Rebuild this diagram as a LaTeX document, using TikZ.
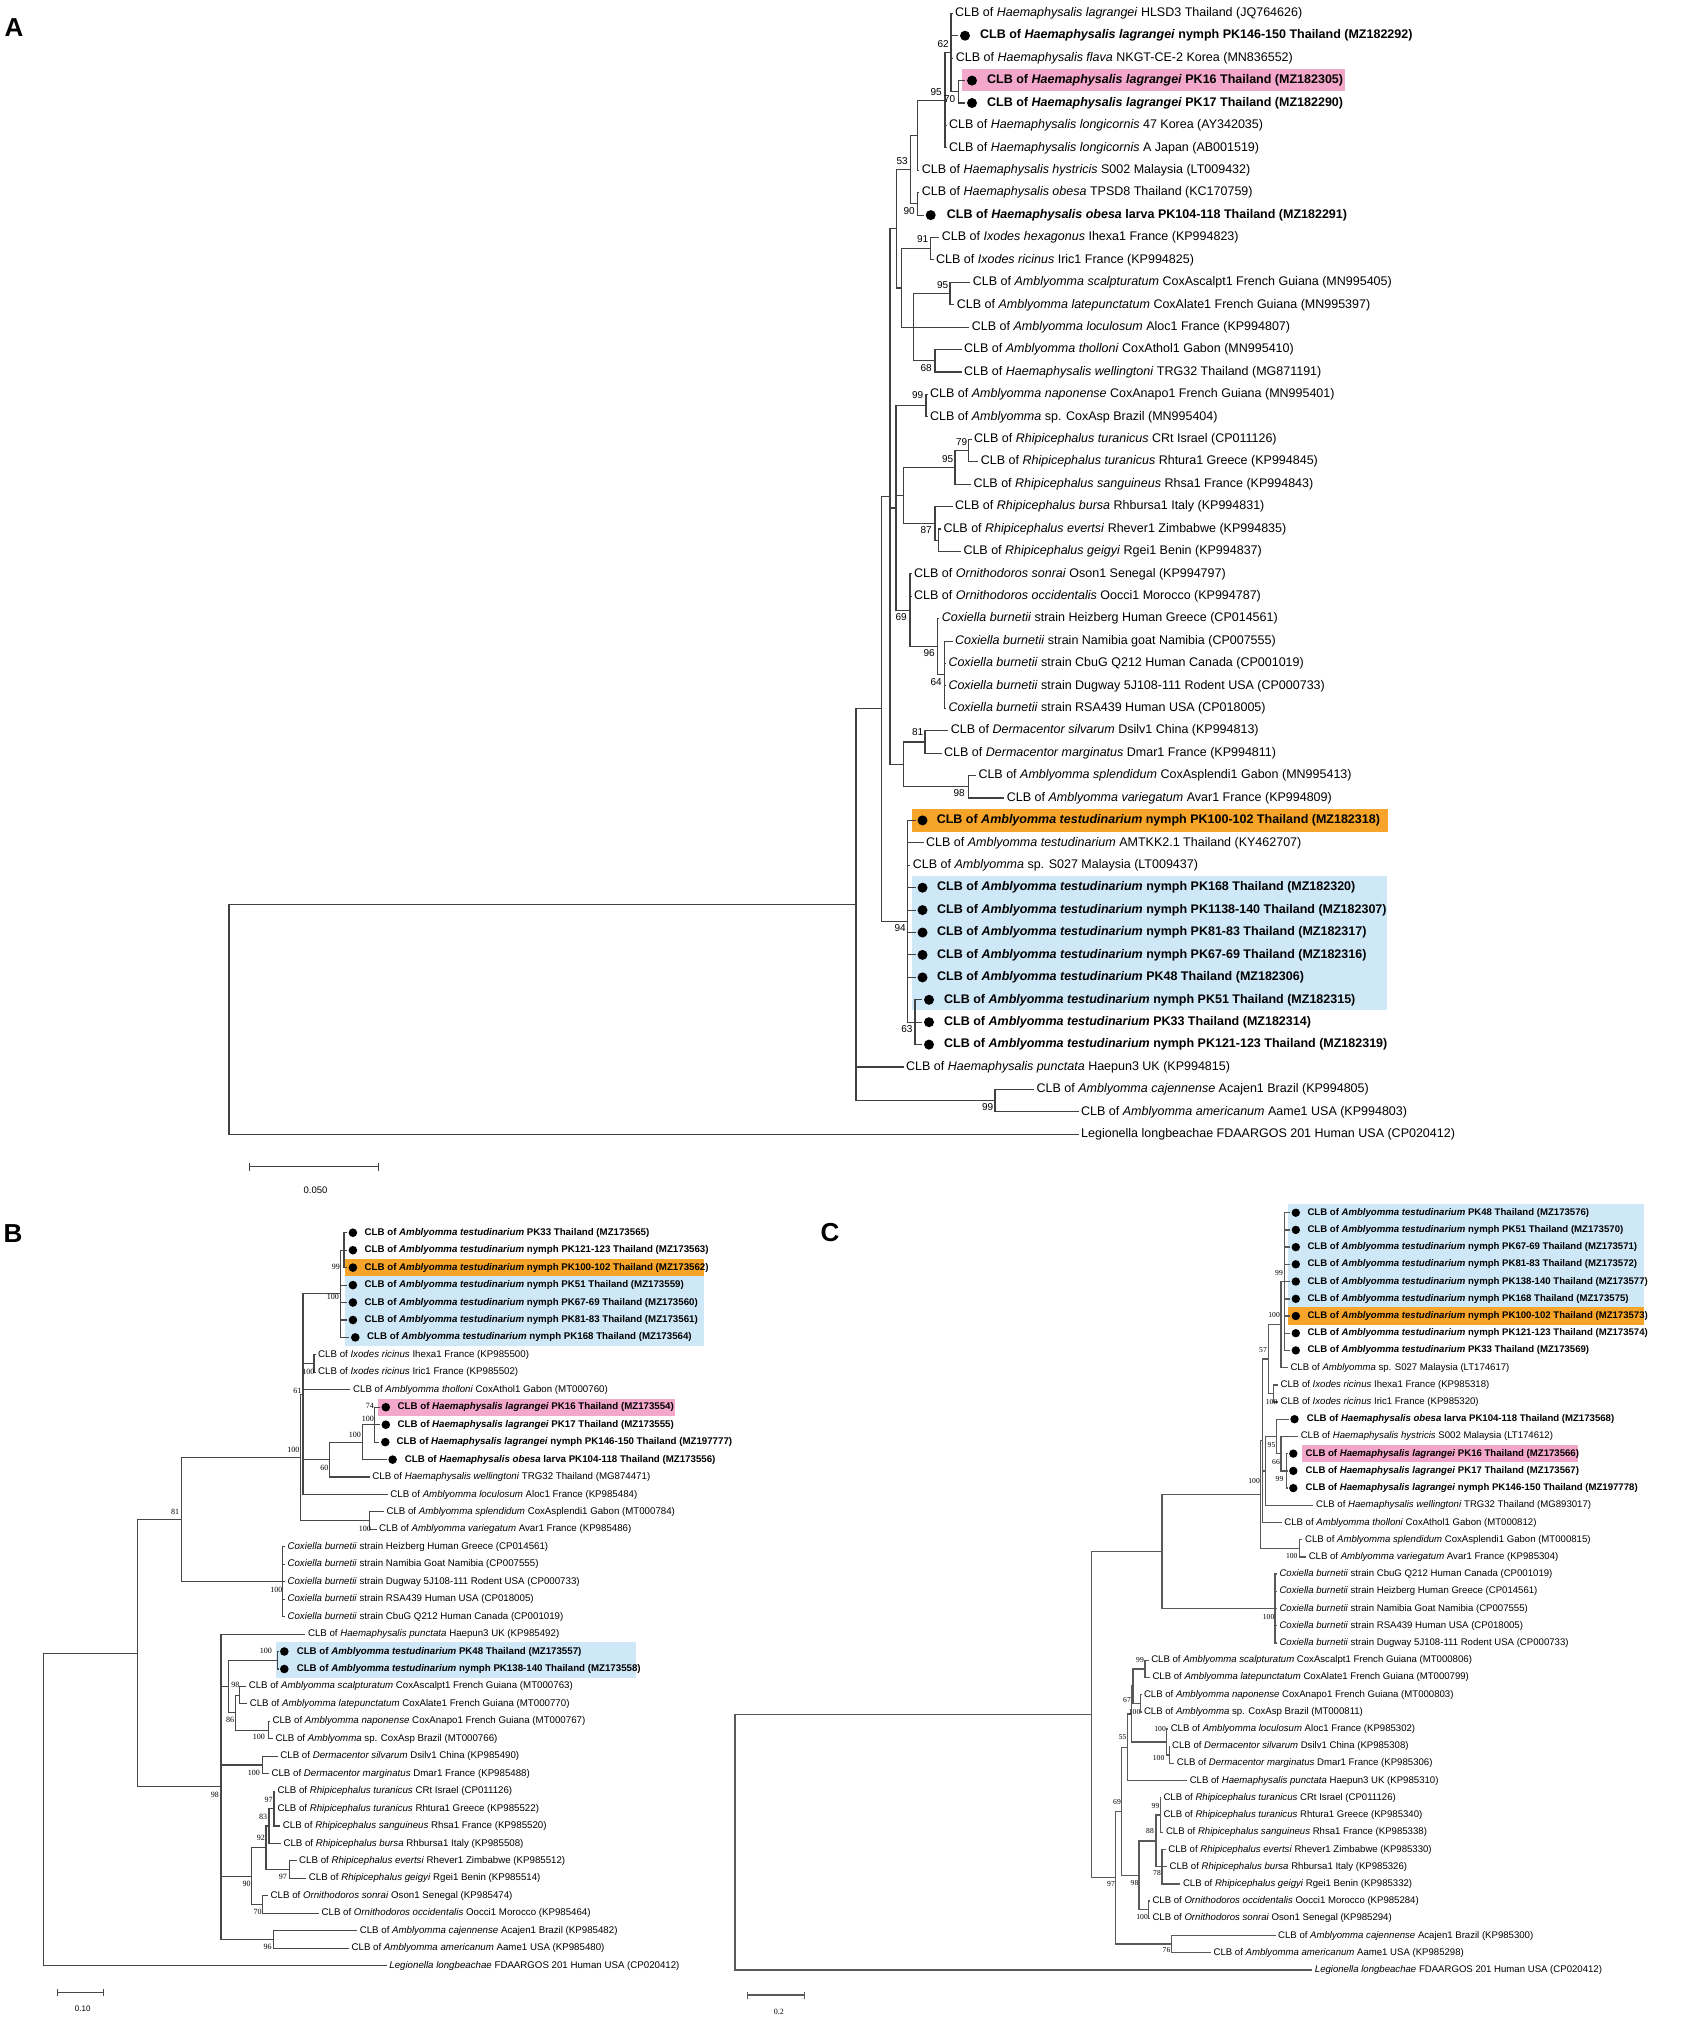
\documentclass[tikz,border=0pt]{standalone}
\usepackage{fontspec}
\setmainfont{Liberation Sans}
\newfontfamily\serifnum{Liberation Serif}
\usetikzlibrary{arrows.meta}
\definecolor{pinkbox}{HTML}{F2A7CB}
\definecolor{orangebox}{HTML}{F7A52A}
\definecolor{bluebox}{HTML}{CFE8F8}
\newcommand\Tlf[5]{\node[lf] (#1) at (#3,#4) {#5}; \draw[br] (#2) |- ([xshift=-2.5pt]#1.west);}
\newcommand\Tld[6]{\node[dotn] (#1d) at (#3,#5) {}; \node[lf] (#1) at (#4,#5) {\bfseries #6}; \draw[br] (#2) |- ([xshift=-1.5pt]#1d.west);}
\newcommand\Tbs[4]{\node[bs] (#1) at (#2,#3) {#4};}
\newcommand\Ted[2]{\draw[br] (#1) |- (#2);}
\begin{document}
\begin{tikzpicture}[x=1pt,y=-1pt,
  br/.style={draw=black!75,line width=1.1pt},
  lf/.style={anchor=west,inner sep=0pt,font=\fontsize{12.5}{15}\selectfont},
  dotn/.style={circle,fill=black,inner sep=0pt,minimum size=10pt},
  bs/.style={anchor=east,inner sep=0pt,font=\fontsize{10}{12}\selectfont},
  panel/.style={font=\bfseries\fontsize{26}{30}\selectfont,inner sep=0pt},
  sbl/.style={inner sep=0pt,font=\fontsize{9.5}{11}\selectfont}]
\fill[white] (0,0) rectangle (1687,2019);
\useasboundingbox (0,0) rectangle (1687,2019);
% ================= PANEL A =================
\node[panel] (lblA) at (14,28) {A};
\fill[pinkbox] (962.4,68.8) rectangle (1344.8,91.2);
\fill[orangebox] (912,809.2) rectangle (1388,831.6);
\fill[bluebox] (912,875.5) rectangle (1387,1010);
\coordinate (anR) at (229,1019.5);
\coordinate (anP) at (856,904.8);
\coordinate (anQ) at (881.7,708.9);
\coordinate (anL) at (890,496.5);
\coordinate (anE) at (896.7,228.7);
\coordinate (anC) at (910.7,169.5);
\coordinate (anBn) at (917.3,135.2);
\coordinate (anA0) at (945,100.2);
\coordinate (anA1) at (951,52.5);
\coordinate (anA2) at (958.3,91.8);
\coordinate (anD) at (917.3,203.9);
\coordinate (anG) at (901.7,288);
\coordinate (anF) at (930.7,248.7);
\coordinate (anH) at (913.3,327.2);
\coordinate (anI) at (950,293.6);
\coordinate (anJ) at (935,360.8);
\coordinate (anM) at (896,508);
\coordinate (anK) at (926,405.7);
\coordinate (anNn) at (903.3,495.3);
\coordinate (anPp) at (955,467.3);
\coordinate (anQq) at (968.3,450.5);
\coordinate (anRr) at (935,523.4);
\coordinate (anSs) at (938.3,540.2);
\coordinate (anO) at (910,610.2);
\coordinate (anT) at (937.3,646.7);
\coordinate (anU) at (944.3,674.7);
\coordinate (anV) at (903.3,764.4);
\coordinate (anW) at (925,742);
\coordinate (anX) at (968.3,786.8);
\coordinate (anY) at (907.3,921.3);
\coordinate (anZ) at (915,1022.2);
\coordinate (anCA) at (995,1100.7);
\Ted{anR}{anP}\Ted{anP}{anQ}\Ted{anP}{anCA}\Ted{anQ}{anL}\Ted{anQ}{anY}
\Ted{anL}{anE}\Ted{anL}{anM}\Ted{anL}{anV}\Ted{anE}{anC}\Ted{anE}{anG}
\Ted{anC}{anBn}\Ted{anC}{anD}\Ted{anBn}{anA0}\Ted{anA0}{anA1}\Ted{anA1}{anA2}
\Ted{anG}{anF}\Ted{anG}{anH}\Ted{anH}{anI}\Ted{anH}{anJ}
\Ted{anM}{anK}\Ted{anM}{anNn}\Ted{anM}{anO}\Ted{anNn}{anPp}\Ted{anNn}{anRr}
\Ted{anPp}{anQq}\Ted{anRr}{anSs}\Ted{anO}{anT}\Ted{anT}{anU}
\Ted{anV}{anW}\Ted{anV}{anX}\Ted{anY}{anZ}
\Tlf{al01}{anA1}{955}{13.3}{CLB of \textit{Haemaphysalis lagrangei} HLSD3 Thailand (JQ764626)}
\Tld{al02}{anA1}{965}{980}{35.7}{CLB of \textit{Haemaphysalis lagrangei} nymph PK146-150 Thailand (MZ182292)}
\Tlf{al03}{anA1}{955.7}{58.1}{CLB of \textit{Haemaphysalis flava} NKGT-CE-2 Korea (MN836552)}
\Tld{al04}{anA2}{972}{987}{80.6}{CLB of \textit{Haemaphysalis lagrangei} PK16 Thailand (MZ182305)}
\Tld{al05}{anA2}{972}{987}{103.0}{CLB of \textit{Haemaphysalis lagrangei} PK17 Thailand (MZ182290)}
\Tlf{al06}{anA0}{949}{125.4}{CLB of \textit{Haemaphysalis longicornis} 47 Korea (AY342035)}
\Tlf{al07}{anA0}{949}{147.8}{CLB of \textit{Haemaphysalis longicornis} A Japan (AB001519)}
\Tlf{al08}{anBn}{921.7}{170.2}{CLB of \textit{Haemaphysalis hystricis} S002 Malaysia (LT009432)}
\Tlf{al09}{anD}{921.7}{192.7}{CLB of \textit{Haemaphysalis obesa} TPSD8 Thailand (KC170759)}
\Tld{al10}{anD}{930.7}{946.7}{215.1}{CLB of \textit{Haemaphysalis obesa} larva PK104-118 Thailand (MZ182291)}
\Tlf{al11}{anF}{941.7}{237.5}{CLB of \textit{Ixodes hexagonus} Ihexa1 France (KP994823)}
\Tlf{al12}{anF}{936}{259.9}{CLB of \textit{Ixodes ricinus} Iric1 France (KP994825)}
\Tlf{al13}{anI}{972.7}{282.3}{CLB of \textit{Amblyomma scalpturatum} CoxAscalpt1 French Guiana (MN995405)}
\Tlf{al14}{anI}{956.7}{304.8}{CLB of \textit{Amblyomma latepunctatum} CoxAlate1 French Guiana (MN995397)}
\Tlf{al15}{anH}{971.7}{327.2}{CLB of \textit{Amblyomma loculosum} Aloc1 France (KP994807)}
\Tlf{al16}{anJ}{964}{349.6}{CLB of \textit{Amblyomma tholloni} CoxAthol1 Gabon (MN995410)}
\Tlf{al17}{anJ}{964}{372.0}{CLB of \textit{Haemaphysalis wellingtoni} TRG32 Thailand (MG871191)}
\Tlf{al18}{anK}{930}{394.4}{CLB of \textit{Amblyomma naponense} CoxAnapo1 French Guiana (MN995401)}
\Tlf{al19}{anK}{930}{416.9}{CLB of \textit{Amblyomma} sp. CoxAsp Brazil (MN995404)}
\Tlf{al20}{anQq}{974}{439.3}{CLB of \textit{Rhipicephalus turanicus} CRt Israel (CP011126)}
\Tlf{al21}{anQq}{980.7}{461.7}{CLB of \textit{Rhipicephalus turanicus} Rhtura1 Greece (KP994845)}
\Tlf{al22}{anPp}{973.3}{484.1}{CLB of \textit{Rhipicephalus sanguineus} Rhsa1 France (KP994843)}
\Tlf{al23}{anRr}{955}{506.5}{CLB of \textit{Rhipicephalus bursa} Rhbursa1 Italy (KP994831)}
\Tlf{al24}{anSs}{943.3}{529.0}{CLB of \textit{Rhipicephalus evertsi} Rhever1 Zimbabwe (KP994835)}
\Tlf{al25}{anSs}{963.3}{551.4}{CLB of \textit{Rhipicephalus geigyi} Rgei1 Benin (KP994837)}
\Tlf{al26}{anO}{914}{573.8}{CLB of \textit{Ornithodoros sonrai} Oson1 Senegal (KP994797)}
\Tlf{al27}{anO}{914}{596.2}{CLB of \textit{Ornithodoros occidentalis} Oocci1 Morocco (KP994787)}
\Tlf{al28}{anT}{941.7}{618.6}{\textit{Coxiella burnetii} strain Heizberg Human Greece (CP014561)}
\Tlf{al29}{anU}{955}{641.1}{\textit{Coxiella burnetii} strain Namibia goat Namibia (CP007555)}
\Tlf{al30}{anU}{948.3}{663.5}{\textit{Coxiella burnetii} strain CbuG Q212 Human Canada (CP001019)}
\Tlf{al31}{anU}{948.3}{685.9}{\textit{Coxiella burnetii} strain Dugway 5J108-111 Rodent USA (CP000733)}
\Tlf{al32}{anU}{948.3}{708.3}{\textit{Coxiella burnetii} strain RSA439 Human USA (CP018005)}
\Tlf{al33}{anW}{950.7}{730.7}{CLB of \textit{Dermacentor silvarum} Dsilv1 China (KP994813)}
\Tlf{al34}{anW}{944}{753.2}{CLB of \textit{Dermacentor marginatus} Dmar1 France (KP994811)}
\Tlf{al35}{anX}{978.3}{775.6}{CLB of \textit{Amblyomma splendidum} CoxAsplendi1 Gabon (MN995413)}
\Tlf{al36}{anX}{1006.7}{798.0}{CLB of \textit{Amblyomma variegatum} Avar1 France (KP994809)}
\Tld{al37}{anY}{922.5}{936.6}{820.4}{CLB of \textit{Amblyomma testudinarium} nymph PK100-102 Thailand (MZ182318)}
\Tlf{al38}{anY}{926}{842.8}{CLB of \textit{Amblyomma testudinarium} AMTKK2.1 Thailand (KY462707)}
\Tlf{al39}{anY}{912.7}{865.3}{CLB of \textit{Amblyomma} sp. S027 Malaysia (LT009437)}
\Tld{al40}{anY}{922.5}{937}{887.7}{CLB of \textit{Amblyomma testudinarium} nymph PK168 Thailand (MZ182320)}
\Tld{al41}{anY}{922.5}{937}{910.1}{CLB of \textit{Amblyomma testudinarium} nymph PK1138-140 Thailand (MZ182307)}
\Tld{al42}{anY}{922.5}{937}{932.5}{CLB of \textit{Amblyomma testudinarium} nymph PK81-83 Thailand (MZ182317)}
\Tld{al43}{anY}{922.5}{937}{954.9}{CLB of \textit{Amblyomma testudinarium} nymph PK67-69 Thailand (MZ182316)}
\Tld{al44}{anY}{922.5}{937}{977.4}{CLB of \textit{Amblyomma testudinarium} PK48 Thailand (MZ182306)}
\Tld{al45}{anZ}{929}{944}{999.8}{CLB of \textit{Amblyomma testudinarium} nymph PK51 Thailand (MZ182315)}
\Tld{al46}{anZ}{929}{944}{1022.2}{CLB of \textit{Amblyomma testudinarium} PK33 Thailand (MZ182314)}
\Tld{al47}{anZ}{929}{944}{1044.6}{CLB of \textit{Amblyomma testudinarium} nymph PK121-123 Thailand (MZ182319)}
\Tlf{al48}{anP}{906}{1067.0}{CLB of \textit{Haemaphysalis punctata} Haepun3 UK (KP994815)}
\Tlf{al49}{anCA}{1036.5}{1089.5}{CLB of \textit{Amblyomma cajennense} Acajen1 Brazil (KP994805)}
\Tlf{al50}{anCA}{1081}{1111.9}{CLB of \textit{Amblyomma americanum} Aame1 USA (KP994803)}
\Tlf{al51}{anR}{1081}{1134.3}{Legionella longbeachae FDAARGOS 201 Human USA (CP020412)}
\Tbs{ba1}{949}{44}{62}
\Tbs{ba2}{942}{92}{95}
\Tbs{ba3}{955.5}{99}{70}
\Tbs{ba4}{908}{160.7}{53}
\Tbs{ba5}{915}{211}{90}
\Tbs{ba6}{928.5}{239.3}{91}
\Tbs{ba7}{948.5}{285}{95}
\Tbs{ba8}{932}{368}{68}
\Tbs{ba9}{923.5}{395}{99}
\Tbs{ba10}{967.5}{441.7}{79}
\Tbs{ba11}{953.5}{459.3}{95}
\Tbs{ba12}{932}{530}{87}
\Tbs{ba13}{907}{616.7}{69}
\Tbs{ba14}{935}{653.3}{96}
\Tbs{ba15}{942}{681.7}{64}
\Tbs{ba16}{923.5}{732.3}{81}
\Tbs{ba17}{965}{793.3}{98}
\Tbs{ba18}{906}{928.3}{94}
\Tbs{ba19}{912.7}{1029.3}{63}
\Tbs{ba20}{993.5}{1106.7}{99}
\coordinate (sbA1) at (248.5,1166.8);
\coordinate (sbA2) at (378.6,1166.8);
\draw[br,{Bar[width=8pt]}-{Bar[width=8pt]}] (sbA1) -- (sbA2);
\node[sbl] (sbAl) at (315.5,1190) {0.050};
% ================= PANEL B =================
\begin{scope}[lf/.style={anchor=west,inner sep=0pt,font=\fontsize{9.7}{11}\selectfont},
  dotn/.style={circle,fill=black,inner sep=0pt,minimum size=8.6pt},
  bs/.style={anchor=east,inner sep=0pt,font=\serifnum\fontsize{8}{9}\selectfont},
  br/.style={draw=black!72,line width=1.1pt}]
\node[panel] (lblB) at (13,1233.5) {B};
\fill[orangebox] (345,1258.5) rectangle (704.3,1276.4);
\fill[bluebox] (345,1276.4) rectangle (704.3,1346);
\fill[pinkbox] (378,1399) rectangle (674.7,1416);
\fill[bluebox] (276.3,1642) rectangle (636,1677.5);
\coordinate (bnR) at (43.3,1809.4);
\coordinate (bnP81) at (137.7,1653.2);
\coordinate (bn81) at (181.8,1519.6);
\coordinate (bn98) at (221,1786.8);
\coordinate (bn3b) at (300.5,1457.4);
\coordinate (bnCox) at (282.6,1581.7);
\coordinate (bn3a) at (303,1394.2);
\coordinate (bnSV) at (369.3,1520.7);
\coordinate (bnO1) at (340.7,1293.8);
\coordinate (bnI1) at (344,1250.2);
\coordinate (bnIx) at (314,1363.6);
\coordinate (bnH) at (329.6,1459.6);
\coordinate (bnH1) at (362.5,1442.1);
\coordinate (bnH2) at (374.7,1424.7);
\coordinate (bnT) at (228.3,1686.5);
\coordinate (bnN100a) at (277.7,1660.3);
\coordinate (bnN86) at (235.7,1712.6);
\coordinate (bnN98b) at (239.3,1695.2);
\coordinate (bnN100b) at (268.3,1730.1);
\coordinate (bnDe) at (262.7,1765);
\coordinate (bnN90) at (251.7,1876.2);
\coordinate (bnN92) at (266,1847.8);
\coordinate (bnN83) at (269,1826);
\coordinate (bnN97) at (274,1808.6);
\coordinate (bnN97b) at (289.3,1869.7);
\coordinate (bnN70) at (262.7,1904.6);
\coordinate (bnN96) at (273.3,1939.5);
\Ted{bnR}{bnP81}\Ted{bnP81}{bn81}\Ted{bnP81}{bn98}\Ted{bn81}{bn3b}\Ted{bn81}{bnCox}
\Ted{bn3b}{bn3a}\Ted{bn3b}{bnSV}\Ted{bn3a}{bnO1}\Ted{bn3a}{bnIx}\Ted{bn3a}{bnH}
\Ted{bnO1}{bnI1}\Ted{bnH}{bnH1}\Ted{bnH1}{bnH2}
\Ted{bn98}{bnT}\Ted{bn98}{bnDe}\Ted{bn98}{bnN90}\Ted{bn98}{bnN96}
\Ted{bnT}{bnN100a}\Ted{bnT}{bnN86}\Ted{bnN86}{bnN98b}\Ted{bnN86}{bnN100b}
\Ted{bnN90}{bnN92}\Ted{bnN90}{bnN70}\Ted{bnN92}{bnN83}\Ted{bnN92}{bnN97b}\Ted{bnN83}{bnN97}
\Tld{bl01}{bnI1}{352.9}{364.5}{1232.7}{CLB of \textit{Amblyomma testudinarium} PK33 Thailand (MZ173565)}
\Tld{bl02}{bnI1}{352.9}{364.5}{1250.2}{CLB of \textit{Amblyomma testudinarium} nymph PK121-123 Thailand (MZ173563)}
\Tld{bl03}{bnI1}{352.9}{364.5}{1267.6}{CLB of \textit{Amblyomma testudinarium} nymph PK100-102 Thailand (MZ173562)}
\Tld{bl04}{bnO1}{352.9}{364.5}{1285.1}{CLB of \textit{Amblyomma testudinarium} nymph PK51 Thailand (MZ173559)}
\Tld{bl05}{bnO1}{352.9}{364.5}{1302.5}{CLB of \textit{Amblyomma testudinarium} nymph PK67-69 Thailand (MZ173560)}
\Tld{bl06}{bnO1}{352.9}{364.5}{1320.0}{CLB of \textit{Amblyomma testudinarium} nymph PK81-83 Thailand (MZ173561)}
\Tld{bl07}{bnO1}{355.3}{367}{1337.4}{CLB of \textit{Amblyomma testudinarium} nymph PK168 Thailand (MZ173564)}
\Tlf{bl08}{bnIx}{318}{1354.9}{CLB of \textit{Ixodes ricinus} Ihexa1 France (KP985500)}
\Tlf{bl09}{bnIx}{318}{1372.3}{CLB of \textit{Ixodes ricinus} Iric1 France (KP985502)}
\Tlf{bl10}{bn3a}{352.9}{1389.8}{CLB of \textit{Amblyomma tholloni} CoxAthol1 Gabon (MT000760)}
\Tld{bl11}{bnH2}{385.8}{397.5}{1407.2}{CLB of \textit{Haemaphysalis lagrangei} PK16 Thailand (MZ173554)}
\Tld{bl12}{bnH2}{385.8}{397.5}{1424.7}{CLB of \textit{Haemaphysalis lagrangei} PK17 Thailand (MZ173555)}
\Tld{bl13}{bnH2}{385.3}{396.5}{1442.1}{CLB of \textit{Haemaphysalis lagrangei} nymph PK146-150 Thailand (MZ197777)}
\Tld{bl14}{bnH1}{392.6}{404.7}{1459.6}{CLB of \textit{Haemaphysalis obesa} larva PK104-118 Thailand (MZ173556)}
\Tlf{bl15}{bnH}{372.2}{1477.0}{CLB of \textit{Haemaphysalis wellingtoni} TRG32 Thailand (MG874471)}
\Tlf{bl16}{bn3a}{390.2}{1494.5}{CLB of \textit{Amblyomma loculosum} Aloc1 France (KP985484)}
\Tlf{bl17}{bnSV}{386.3}{1511.9}{CLB of \textit{Amblyomma splendidum} CoxAsplendi1 Gabon (MT000784)}
\Tlf{bl18}{bnSV}{379}{1529.4}{CLB of \textit{Amblyomma variegatum} Avar1 France (KP985486)}
\Tlf{bl19}{bnCox}{287.4}{1546.8}{\textit{Coxiella burnetii} strain Heizberg Human Greece (CP014561)}
\Tlf{bl20}{bnCox}{287.4}{1564.3}{\textit{Coxiella burnetii} strain Namibia Goat Namibia (CP007555)}
\Tlf{bl21}{bnCox}{287.4}{1581.7}{\textit{Coxiella burnetii} strain Dugway 5J108-111 Rodent USA (CP000733)}
\Tlf{bl22}{bnCox}{287.4}{1599.2}{\textit{Coxiella burnetii} strain RSA439 Human USA (CP018005)}
\Tlf{bl23}{bnCox}{287.4}{1616.6}{\textit{Coxiella burnetii} strain CbuG Q212 Human Canada (CP001019)}
\Tlf{bl24}{bn98}{307.8}{1634.1}{CLB of \textit{Haemaphysalis punctata} Haepun3 UK (KP985492)}
\Tld{bl25}{bnN100a}{284.3}{296.6}{1651.5}{CLB of \textit{Amblyomma testudinarium} PK48 Thailand (MZ173557)}
\Tld{bl26}{bnN100a}{284.3}{296.6}{1669.0}{CLB of \textit{Amblyomma testudinarium} nymph PK138-140 Thailand (MZ173558)}
\Tlf{bl27}{bnN98b}{248.6}{1686.4}{CLB of \textit{Amblyomma scalpturatum} CoxAscalpt1 French Guiana (MT000763)}
\Tlf{bl28}{bnN98b}{249.6}{1703.9}{CLB of \textit{Amblyomma latepunctatum} CoxAlate1 French Guiana (MT000770)}
\Tlf{bl29}{bnN100b}{272.4}{1721.3}{CLB of \textit{Amblyomma naponense} CoxAnapo1 French Guiana (MT000767)}
\Tlf{bl30}{bnN100b}{275.3}{1738.8}{CLB of \textit{Amblyomma} sp. CoxAsp Brazil (MT000766)}
\Tlf{bl31}{bnDe}{280.2}{1756.2}{CLB of \textit{Dermacentor silvarum} Dsilv1 China (KP985490)}
\Tlf{bl32}{bnDe}{271.4}{1773.7}{CLB of \textit{Dermacentor marginatus} Dmar1 France (KP985488)}
\Tlf{bl33}{bnN97}{277.3}{1791.1}{CLB of \textit{Rhipicephalus turanicus} CRt Israel (CP011126)}
\Tlf{bl34}{bnN97}{277.3}{1808.6}{CLB of \textit{Rhipicephalus turanicus} Rhtura1 Greece (KP985522)}
\Tlf{bl35}{bnN97}{282.7}{1826.0}{CLB of \textit{Rhipicephalus sanguineus} Rhsa1 France (KP985520)}
\Tlf{bl36}{bnN83}{283.3}{1843.5}{CLB of \textit{Rhipicephalus bursa} Rhbursa1 Italy (KP985508)}
\Tlf{bl37}{bnN97b}{299}{1860.9}{CLB of \textit{Rhipicephalus evertsi} Rhever1 Zimbabwe (KP985512)}
\Tlf{bl38}{bnN97b}{308.7}{1878.4}{CLB of \textit{Rhipicephalus geigyi} Rgei1 Benin (KP985514)}
\Tlf{bl39}{bnN70}{270.5}{1895.8}{CLB of \textit{Ornithodoros sonrai} Oson1 Senegal (KP985474)}
\Tlf{bl40}{bnN70}{321.4}{1913.3}{CLB of \textit{Ornithodoros occidentalis} Oocci1 Morocco (KP985464)}
\Tlf{bl41}{bnN96}{359.6}{1930.7}{CLB of \textit{Amblyomma cajennense} Acajen1 Brazil (KP985482)}
\Tlf{bl42}{bnN96}{351.4}{1948.2}{CLB of \textit{Amblyomma americanum} Aame1 USA (KP985480)}
\Tlf{bl43}{bnR}{389.2}{1965.6}{\textit{Legionella longbeachae} FDAARGOS 201 Human USA (CP020412)}
\Tbs{bb1}{340}{1266.7}{99}
\Tbs{bb2}{339}{1296.7}{100}
\Tbs{bb3}{314.5}{1372}{100}
\Tbs{bb4}{301.5}{1390.7}{61}
\Tbs{bb5}{374}{1406}{74}
\Tbs{bb6}{374}{1419}{100}
\Tbs{bb7}{361}{1435}{100}
\Tbs{bb8}{299.5}{1450}{100}
\Tbs{bb9}{328.6}{1468.3}{60}
\Tbs{bb10}{371}{1529}{100}
\Tbs{bb11}{179.3}{1511.7}{81}
\Tbs{bb12}{282.6}{1590}{100}
\Tbs{bb13}{219}{1795}{98}
\Tbs{bb14}{272}{1650.7}{100}
\Tbs{bb15}{239.5}{1685.3}{98}
\Tbs{bb16}{234.3}{1720}{86}
\Tbs{bb17}{265}{1737.3}{100}
\Tbs{bb18}{260}{1772.7}{100}
\Tbs{bb19}{272.7}{1800}{97}
\Tbs{bb20}{267.3}{1816.7}{83}
\Tbs{bb21}{265}{1837.7}{92}
\Tbs{bb22}{287}{1877.3}{97}
\Tbs{bb23}{250.7}{1884}{90}
\Tbs{bb24}{261.7}{1911.7}{70}
\Tbs{bb25}{271.7}{1946.7}{96}
\coordinate (sbB1) at (56.7,1992.3);
\coordinate (sbB2) at (104,1992.3);
\draw[br,{Bar[width=7pt]}-{Bar[width=7pt]}] (sbB1) -- (sbB2);
\node[sbl,font=\fontsize{8}{9}\selectfont] (sbBl) at (82.7,2008.3) {0.10};
\end{scope}
% ================= PANEL C =================
\begin{scope}[lf/.style={anchor=west,inner sep=0pt,font=\fontsize{9.6}{11}\selectfont},
  dotn/.style={circle,fill=black,inner sep=0pt,minimum size=8.4pt},
  bs/.style={anchor=east,inner sep=0pt,font=\serifnum\fontsize{7.6}{9}\selectfont},
  br/.style={draw=black!65,line width=1.4pt}]
\node[panel] (lblC) at (830,1232.5) {C};
\fill[bluebox] (1288.4,1204) rectangle (1643.6,1307.4);
\fill[orangebox] (1288.4,1307.4) rectangle (1643.6,1324.6);
\fill[pinkbox] (1301.9,1445) rectangle (1578.3,1462.2);
\coordinate (cnR) at (734.9,1842.3);
\coordinate (cn592) at (1091.3,1714.6);
\coordinate (cn708) at (1162,1551.5);
\coordinate (cn97) at (1115.7,1877.7);
\coordinate (cn4b) at (1260.5,1494.5);
\coordinate (cnCox) at (1275,1608.5);
\coordinate (cn4a) at (1262.2,1440.7);
\coordinate (cnSV) at (1299.4,1548.3);
\coordinate (cn3) at (1268.3,1359);
\coordinate (cn5) at (1265.2,1470.9);
\coordinate (cn2) at (1281,1324.6);
\coordinate (cnIx) at (1273.2,1393.4);
\coordinate (cn1) at (1284.2,1281.5);
\coordinate (cn6) at (1276.2,1436.4);
\coordinate (cn7) at (1281.1,1453.6);
\coordinate (cn8) at (1286.6,1470.9);
\coordinate (cn69) at (1121.2,1811.3);
\coordinate (cn76) at (1171.3,1944.1);
\coordinate (cn651) at (1127.3,1747.3);
\coordinate (cn98) at (1138.9,1875.3);
\coordinate (cn55) at (1131.6,1714);
\coordinate (cn67) at (1132.8,1686);
\coordinate (cnLoc) at (1166.4,1741.9);
\coordinate (cn99) at (1145,1668.8);
\coordinate (cn100) at (1140.7,1703.2);
\coordinate (cnDe) at (1169.4,1754.8);
\coordinate (cn88) at (1156,1840.9);
\coordinate (cnOrn) at (1148.7,1909.7);
\coordinate (cn99r) at (1160.3,1815);
\coordinate (cn78) at (1162.1,1866.7);
\Ted{cnR}{cn592}\Ted{cn592}{cn708}\Ted{cn592}{cn97}\Ted{cn708}{cn4b}\Ted{cn708}{cnCox}
\Ted{cn4b}{cn4a}\Ted{cn4b}{cnSV}\Ted{cn4a}{cn3}\Ted{cn4a}{cn5}\Ted{cn3}{cn2}\Ted{cn3}{cnIx}
\Ted{cn2}{cn1}\Ted{cn5}{cn6}\Ted{cn6}{cn7}\Ted{cn7}{cn8}
\Ted{cn97}{cn69}\Ted{cn97}{cn76}\Ted{cn69}{cn651}\Ted{cn69}{cn98}\Ted{cn651}{cn55}
\Ted{cn55}{cn67}\Ted{cn55}{cnLoc}\Ted{cn67}{cn99}\Ted{cn67}{cn100}\Ted{cnLoc}{cnDe}
\Ted{cn98}{cn88}\Ted{cn98}{cnOrn}\Ted{cn88}{cn99r}\Ted{cn88}{cn78}
\Tld{cl01}{cn1}{1295.8}{1307.3}{1212.7}{CLB of \textit{Amblyomma testudinarium} PK48 Thailand (MZ173576)}
\Tld{cl02}{cn1}{1295.8}{1307.3}{1229.9}{CLB of \textit{Amblyomma testudinarium} nymph PK51 Thailand (MZ173570)}
\Tld{cl03}{cn1}{1295.8}{1307.3}{1247.1}{CLB of \textit{Amblyomma testudinarium} nymph PK67-69 Thailand (MZ173571)}
\Tld{cl04}{cn1}{1295.8}{1307.3}{1264.3}{CLB of \textit{Amblyomma testudinarium} nymph PK81-83 Thailand (MZ173572)}
\Tld{cl05}{cn1}{1295.8}{1307.3}{1281.5}{CLB of \textit{Amblyomma testudinarium} nymph PK138-140 Thailand (MZ173577)}
\Tld{cl06}{cn1}{1295.8}{1307.3}{1298.8}{CLB of \textit{Amblyomma testudinarium} nymph PK168 Thailand (MZ173575)}
\Tld{cl07}{cn1}{1295.8}{1307.3}{1316.0}{CLB of \textit{Amblyomma testudinarium} nymph PK100-102 Thailand (MZ173573)}
\Tld{cl08}{cn1}{1295.8}{1307.3}{1333.2}{CLB of \textit{Amblyomma testudinarium} nymph PK121-123 Thailand (MZ173574)}
\Tld{cl09}{cn1}{1295.8}{1307.3}{1350.4}{CLB of \textit{Amblyomma testudinarium} PK33 Thailand (MZ173569)}
\Tlf{cl10}{cn2}{1290.3}{1367.6}{CLB of \textit{Amblyomma} sp. S027 Malaysia (LT174617)}
\Tlf{cl11}{cnIx}{1280.5}{1384.8}{CLB of \textit{Ixodes ricinus} Ihexa1 France (KP985318)}
\Tlf{cl12}{cnIx}{1280.5}{1402.0}{CLB of \textit{Ixodes ricinus} Iric1 France (KP985320)}
\Tld{cl13}{cn6}{1294.5}{1306.7}{1419.2}{CLB of \textit{Haemaphysalis obesa} larva PK104-118 Thailand (MZ173568)}
\Tlf{cl14}{cn7}{1300.6}{1436.4}{CLB of \textit{Haemaphysalis hystricis} S002 Malaysia (LT174612)}
\Tld{cl15}{cn8}{1293.3}{1305.5}{1453.6}{CLB of \textit{Haemaphysalis lagrangei} PK16 Thailand (MZ173566)}
\Tld{cl16}{cn8}{1293.3}{1305.5}{1470.9}{CLB of \textit{Haemaphysalis lagrangei} PK17 Thailand (MZ173567)}
\Tld{cl17}{cn8}{1293.3}{1305.5}{1488.1}{CLB of \textit{Haemaphysalis lagrangei} nymph PK146-150 Thailand (MZ197778)}
\Tlf{cl18}{cn5}{1315.9}{1505.3}{CLB of \textit{Haemaphysalis wellingtoni} TRG32 Thailand (MG893017)}
\Tlf{cl19}{cn4a}{1284.2}{1522.5}{CLB of \textit{Amblyomma tholloni} CoxAthol1 Gabon (MT000812)}
\Tlf{cl20}{cnSV}{1304.9}{1539.7}{CLB of \textit{Amblyomma splendidum} CoxAsplendi1 Gabon (MT000815)}
\Tlf{cl21}{cnSV}{1308.6}{1556.9}{CLB of \textit{Amblyomma variegatum} Avar1 France (KP985304)}
\Tlf{cl22}{cnCox}{1279.3}{1574.1}{\textit{Coxiella burnetii} strain CbuG Q212 Human Canada (CP001019)}
\Tlf{cl23}{cnCox}{1279.3}{1591.3}{\textit{Coxiella burnetii} strain Heizberg Human Greece (CP014561)}
\Tlf{cl24}{cnCox}{1279.3}{1608.5}{\textit{Coxiella burnetii} strain Namibia Goat Namibia (CP007555)}
\Tlf{cl25}{cnCox}{1279.3}{1625.7}{\textit{Coxiella burnetii} strain RSA439 Human USA (CP018005)}
\Tlf{cl26}{cnCox}{1279.3}{1642.9}{\textit{Coxiella burnetii} strain Dugway 5J108-111 Rodent USA (CP000733)}
\Tlf{cl27}{cn99}{1151.1}{1660.2}{CLB of \textit{Amblyomma scalpturatum} CoxAscalpt1 French Guiana (MT000806)}
\Tlf{cl28}{cn99}{1152.3}{1677.4}{CLB of \textit{Amblyomma latepunctatum} CoxAlate1 French Guiana (MT000799)}
\Tlf{cl29}{cn100}{1143.8}{1694.6}{CLB of \textit{Amblyomma naponense} CoxAnapo1 French Guiana (MT000803)}
\Tlf{cl30}{cn100}{1143.8}{1711.8}{CLB of \textit{Amblyomma} sp. CoxAsp Brazil (MT000811)}
\Tlf{cl31}{cnLoc}{1170.6}{1729.0}{CLB of \textit{Amblyomma loculosum} Aloc1 France (KP985302)}
\Tlf{cl32}{cnDe}{1172}{1746.2}{CLB of \textit{Dermacentor silvarum} Dsilv1 China (KP985308)}
\Tlf{cl33}{cnDe}{1176.7}{1763.4}{CLB of \textit{Dermacentor marginatus} Dmar1 France (KP985306)}
\Tlf{cl34}{cn651}{1189.6}{1780.6}{CLB of \textit{Haemaphysalis punctata} Haepun3 UK (KP985310)}
\Tlf{cl35}{cn99r}{1163.3}{1797.8}{CLB of \textit{Rhipicephalus turanicus} CRt Israel (CP011126)}
\Tlf{cl36}{cn99r}{1163.3}{1815.0}{CLB of \textit{Rhipicephalus turanicus} Rhtura1 Greece (KP985340)}
\Tlf{cl37}{cn99r}{1165.8}{1832.3}{CLB of \textit{Rhipicephalus sanguineus} Rhsa1 France (KP985338)}
\Tlf{cl38}{cn78}{1168.2}{1849.5}{CLB of \textit{Rhipicephalus evertsi} Rhever1 Zimbabwe (KP985330)}
\Tlf{cl39}{cn78}{1169.4}{1866.7}{CLB of \textit{Rhipicephalus bursa} Rhbursa1 Italy (KP985326)}
\Tlf{cl40}{cn78}{1182.8}{1883.9}{CLB of \textit{Rhipicephalus geigyi} Rgei1 Benin (KP985332)}
\Tlf{cl41}{cnOrn}{1152.3}{1901.1}{CLB of \textit{Ornithodoros occidentalis} Oocci1 Morocco (KP985284)}
\Tlf{cl42}{cnOrn}{1152.3}{1918.3}{CLB of \textit{Ornithodoros sonrai} Oson1 Senegal (KP985294)}
\Tlf{cl43}{cn76}{1278}{1935.5}{CLB of \textit{Amblyomma cajennense} Acajen1 Brazil (KP985300)}
\Tlf{cl44}{cn76}{1213.4}{1952.7}{CLB of \textit{Amblyomma americanum} Aame1 USA (KP985298)}
\Tlf{cl45}{cnR}{1314.7}{1969.9}{\textit{Legionella longbeachae} FDAARGOS 201 Human USA (CP020412)}
\Tbs{bc1}{1283}{1272.7}{99}
\Tbs{bc2}{1280}{1315}{100}
\Tbs{bc3}{1267}{1350}{57}
\Tbs{bc4}{1277.5}{1402}{100}
\Tbs{bc5}{1275.5}{1445}{95}
\Tbs{bc6}{1280}{1461.7}{66}
\Tbs{bc7}{1283.5}{1478.7}{99}
\Tbs{bc8}{1260}{1481}{100}
\Tbs{bc9}{1297.6}{1556}{100}
\Tbs{bc10}{1274.5}{1617.3}{100}
\Tbs{bc11}{1144}{1660.3}{99}
\Tbs{bc12}{1131}{1700}{67}
\Tbs{bc13}{1140.5}{1712}{100}
\Tbs{bc14}{1126.7}{1736.7}{55}
\Tbs{bc15}{1166}{1729.3}{100}
\Tbs{bc16}{1164.5}{1758.3}{100}
\Tbs{bc17}{1121}{1801.7}{69}
\Tbs{bc18}{1159.5}{1806}{99}
\Tbs{bc19}{1154}{1831}{88}
\Tbs{bc20}{1161}{1872.7}{78}
\Tbs{bc21}{1138.5}{1882.7}{98}
\Tbs{bc22}{1115}{1884}{97}
\Tbs{bc23}{1148}{1917.3}{100}
\Tbs{bc24}{1170.5}{1950}{76}
\coordinate (sbC1) at (747,1995);
\coordinate (sbC2) at (805,1995);
\draw[br,{Bar[width=7pt]}-{Bar[width=7pt]}] (sbC1) -- (sbC2);
\node[sbl,font=\serifnum\fontsize{8}{9}\selectfont] (sbCl) at (778.8,2011.7) {0.2};
\end{scope}
\end{tikzpicture}
\end{document}
